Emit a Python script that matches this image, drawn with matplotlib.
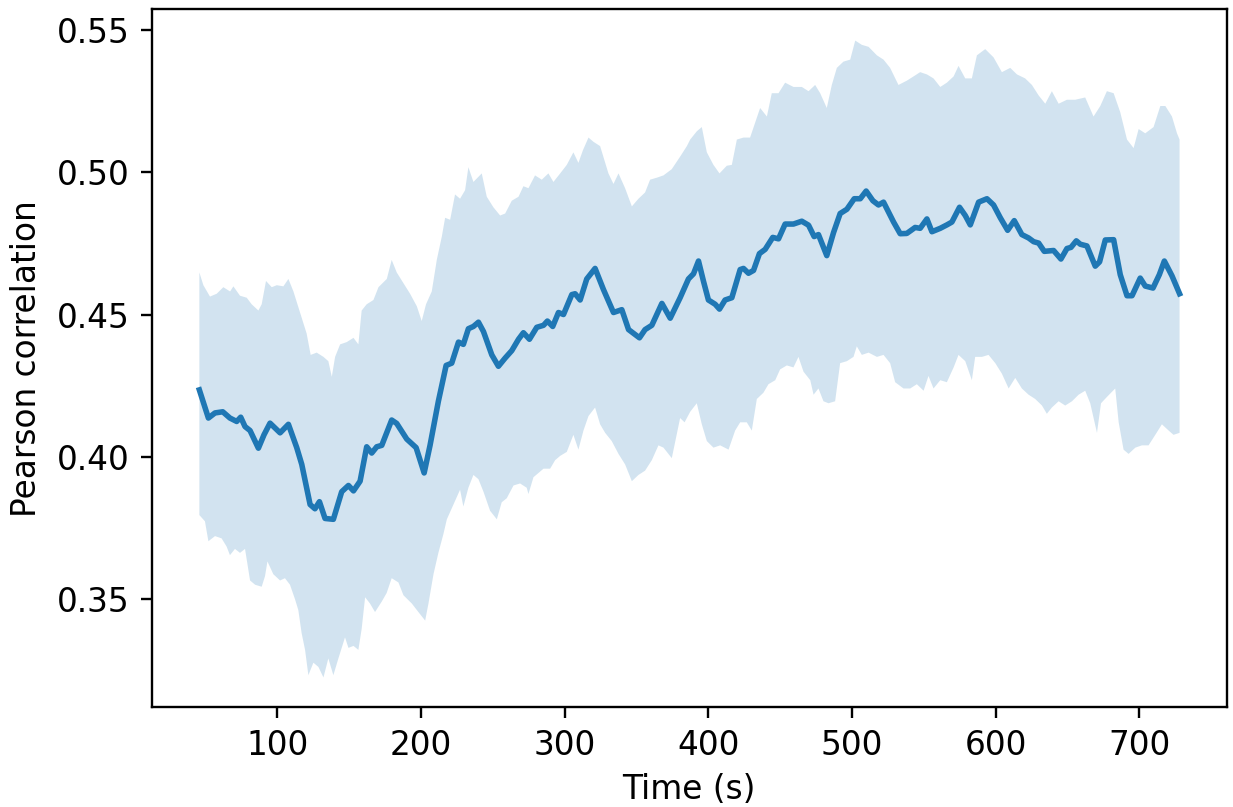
import numpy as np
import matplotlib
matplotlib.use("Agg")
import matplotlib.pyplot as plt

# mean correlation (smoothed)
t_mean = [45.7, 52, 56.6, 62, 67, 71.7, 74.5, 77.5, 81, 86.8, 90.7, 94.9, 101.9, 107.7,
          113.5, 117, 122.8, 126.2, 129.3, 133.2, 139, 144.8, 149.5, 153, 157.6, 162.2,
          165.7, 169.2, 172.7, 179.6, 183.1, 190.1, 196.6, 202.2, 206.3, 212.1, 217.5,
          221.4, 226.1, 229.5, 233, 236.5, 240, 243.5, 249.3, 253.9, 258.6, 263.2, 267.9,
          271.3, 275.5, 280.6, 285.3, 288, 291.7, 295.7, 299.2, 305, 307.3, 310.8, 315.4,
          321.2, 327, 334, 339.8, 344.5, 352.1, 356, 360.7, 367.7, 373.5, 380.4, 386.2,
          389.7, 393.2, 396.6, 400.1, 404.8, 407.8, 411.7, 416.4, 422.2, 424.5, 428,
          431.5, 435.6, 439.6, 444.9, 448.9, 453.5, 459.3, 465.1, 469.8, 473.7, 476.7,
          482.5, 487.2, 491.8, 496.5, 501.6, 505.8, 509.9, 514.6, 518.5, 522, 529, 533.6,
          538.2, 544, 547.5, 552.2, 555.7, 561.5, 566.1, 569.6, 574.9, 578.9, 582.4,
          588.2, 594, 598.6, 603.3, 608.4, 613, 618.3, 623, 626.5, 630, 633.9, 640.4,
          645.5, 649.7, 652.5, 656.2, 659, 663.6, 669.4, 672.4, 676.4, 682.2, 686.8,
          691.5, 695, 700.7, 704.2, 709.6, 714, 717.5, 722.8, 728.1]
r_mean = [0.4235, 0.4136, 0.4154, 0.4158, 0.4136, 0.4124, 0.4139, 0.4106, 0.4092, 0.403,
          0.4077, 0.4118, 0.4084, 0.4114, 0.4032, 0.3973, 0.3832, 0.3817, 0.3842, 0.3783,
          0.378, 0.3877, 0.3899, 0.388, 0.3914, 0.4035, 0.4013, 0.4035, 0.404, 0.4129,
          0.4117, 0.4062, 0.4032, 0.3943, 0.404, 0.4195, 0.4321, 0.4329, 0.4403, 0.4395,
          0.445, 0.4458, 0.4473, 0.444, 0.4358, 0.4318, 0.4347, 0.4373, 0.4413, 0.4436,
          0.4413, 0.4455, 0.4462, 0.4477, 0.4458, 0.4507, 0.45, 0.457, 0.4573, 0.4551,
          0.4625, 0.4662, 0.4588, 0.4507, 0.4517, 0.4447, 0.4418, 0.4447, 0.4462, 0.4539,
          0.4487, 0.4559, 0.4625, 0.4643, 0.4688, 0.4618, 0.4551, 0.4536, 0.4519, 0.4551,
          0.4559, 0.4658, 0.4662, 0.4645, 0.4655, 0.4714, 0.4729, 0.4771, 0.4766, 0.4818,
          0.4818, 0.4828, 0.4814, 0.4774, 0.4781, 0.4707, 0.4788, 0.4855, 0.487, 0.4907,
          0.4907, 0.4934, 0.49, 0.4885, 0.4895, 0.4825, 0.4784, 0.4785, 0.4806, 0.4803,
          0.4836, 0.4791, 0.4803, 0.4815, 0.4825, 0.4877, 0.4848, 0.4815, 0.4895, 0.4907,
          0.4885, 0.484, 0.4796, 0.483, 0.4781, 0.4769, 0.4756, 0.4751, 0.4722, 0.4725,
          0.4695, 0.4732, 0.4736, 0.4759, 0.4747, 0.4741, 0.467, 0.4685, 0.4762, 0.4763,
          0.464, 0.4566, 0.4566, 0.4628, 0.46, 0.4593, 0.464, 0.4688, 0.4636, 0.4573]

# upper edge of the spread
t_upper = [45.7, 48.5, 53.1, 57.8, 62.4, 67.1, 69.4, 74, 78.7, 82.1, 86.8, 89.1, 92.1,
           96.1, 99.6, 104.2, 107.7, 111.2, 115.8, 120.4, 123.2, 127.4, 132.1, 135.5,
           137.9, 140.2, 143.7, 148.3, 153, 156.4, 158.7, 162.2, 166.9, 170.4, 176.2,
           179.6, 183.1, 187.8, 192.4, 197.1, 200.5, 203.5, 207.5, 211, 214.5, 216.8,
           220.3, 223.7, 227.2, 230.7, 233, 236.5, 242.3, 245.8, 250.4, 255.1, 258.6,
           263.2, 267.9, 271.3, 274.8, 279.4, 284.1, 288.7, 292.2, 296.9, 301.5, 306.1,
           309.6, 312.7, 316.6, 320.1, 324.7, 330.5, 334, 337.5, 342.1, 346.8, 351.4, 356,
           359.5, 364.2, 368.8, 374.6, 380.4, 385.1, 387.4, 392, 395.5, 399, 403.6, 407.8,
           412.9, 416.4, 419.9, 424.5, 429.1, 436.1, 440.8, 444.2, 448.9, 453.5, 459.3,
           465.1, 469.8, 474.4, 477.9, 482.5, 486, 489.5, 494.1, 498.8, 502.3, 506.9,
           511.6, 517.4, 522, 526.6, 532.4, 538.2, 542.9, 547.5, 552.2, 556.8, 561.5,
           566.1, 570.8, 574.2, 578.9, 583.5, 587, 592.8, 598.6, 604.4, 610.2, 614.9,
           620.6, 625.3, 630, 634.6, 639.2, 643.9, 649.7, 655.5, 662.4, 668.2, 672.9,
           677.5, 682.2, 686.8, 691.5, 696.1, 699.6, 704.2, 710, 714.7, 718.2, 722.8,
           726.3, 728.1]
r_upper = [0.4648, 0.4603, 0.4563, 0.4573, 0.4596, 0.4581, 0.4599, 0.4566, 0.4559,
           0.4536, 0.4514, 0.4536, 0.4618, 0.4596, 0.4603, 0.4599, 0.4625, 0.4581, 0.4507,
           0.4433, 0.4358, 0.4366, 0.4351, 0.4336, 0.4281, 0.4351, 0.4395, 0.4403, 0.4418,
           0.4395, 0.4514, 0.4536, 0.4551, 0.4596, 0.4625, 0.4692, 0.4648, 0.461, 0.4573,
           0.4529, 0.4477, 0.4536, 0.4581, 0.4692, 0.4774, 0.484, 0.4833, 0.4922, 0.4907,
           0.4937, 0.5018, 0.4966, 0.4996, 0.4914, 0.4877, 0.4848, 0.4855, 0.49, 0.4914,
           0.4951, 0.4944, 0.4989, 0.4974, 0.4996, 0.4966, 0.4996, 0.5026, 0.507, 0.5033,
           0.5077, 0.5122, 0.5107, 0.5092, 0.4996, 0.4959, 0.4996, 0.4944, 0.488, 0.4907,
           0.4929, 0.4974, 0.4981, 0.4989, 0.5011, 0.5055, 0.5092, 0.5115, 0.5144, 0.5159,
           0.507, 0.5026, 0.4996, 0.5023, 0.5026, 0.5115, 0.5122, 0.5122, 0.5226, 0.5196,
           0.5278, 0.5278, 0.5315, 0.53, 0.53, 0.5285, 0.5307, 0.5278, 0.5226, 0.5307,
           0.5367, 0.5389, 0.5396, 0.5463, 0.5448, 0.5441, 0.5411, 0.5396, 0.5367, 0.5307,
           0.5322, 0.5337, 0.5352, 0.5344, 0.533, 0.53, 0.5315, 0.5337, 0.5374, 0.533,
           0.533, 0.5411, 0.5433, 0.5404, 0.5352, 0.5367, 0.5344, 0.533, 0.5307, 0.527,
           0.5241, 0.5285, 0.5241, 0.5255, 0.5255, 0.5263, 0.5196, 0.5233, 0.5285, 0.5278,
           0.5211, 0.5115, 0.5085, 0.5152, 0.5137, 0.5159, 0.5233, 0.5233, 0.5196, 0.5137,
           0.5115]

# lower edge of the spread
t_lower = [45.7, 49.6, 52, 56.6, 61.2, 64.7, 67, 70.5, 74, 77.5, 81, 84.5, 89.1, 91.4,
           93.1, 97.2, 101.9, 105.3, 108.8, 112.3, 114.6, 116.9, 119.3, 121.6, 125.1,
           128.6, 132.1, 135.5, 139, 142.5, 147.1, 149.5, 153, 156.4, 158.7, 161.1, 164.5,
           168, 172.7, 176.1, 179.6, 184.3, 187.8, 193.6, 198.2, 202.9, 205.2, 208.7,
           212.1, 215.6, 218, 222.6, 227.2, 229.5, 233, 236.5, 240, 243.5, 248.1, 252.8,
           256.2, 259.7, 264.4, 269, 273.6, 274.8, 278.3, 281.8, 285.3, 289.9, 293.4,
           296.9, 301.5, 306.1, 309.6, 313.1, 316.6, 321.2, 324.7, 328.2, 332.8, 337.5,
           342.1, 346.8, 351.4, 356, 360.7, 365.3, 368.8, 374.6, 380.4, 383.5, 387.4, 392,
           395.5, 399, 403.6, 408.3, 414.1, 418.7, 422.2, 426.8, 430.3, 433.8, 438.4,
           441.9, 446.6, 450, 454.7, 459.3, 462.8, 466.3, 471, 473.3, 476.7, 480.2, 483.7,
           488.3, 491.8, 496.5, 501.1, 503.4, 506.9, 511.6, 517.4, 522, 526.6, 530.1,
           535.9, 540.6, 545.2, 549.9, 553.3, 556.8, 561.5, 566.1, 570.8, 574.2, 578.9,
           583.5, 585.8, 590.5, 595.1, 599.8, 604.4, 609.1, 613.7, 618.3, 623, 627.6,
           632.3, 635.7, 639.2, 643.9, 648.5, 653.2, 657.8, 662.4, 665.9, 670.6, 673.4,
           677.5, 683.3, 685.7, 689.1, 692.6, 697.3, 701.9, 706.5, 711.2, 715.8, 720.5,
           723.9, 728.1]
r_lower = [0.3795, 0.3773, 0.3703, 0.3721, 0.3713, 0.3684, 0.3654, 0.3676, 0.3662,
           0.3676, 0.3565, 0.355, 0.3543, 0.358, 0.3632, 0.3587, 0.3565, 0.3573, 0.355,
           0.3499, 0.3461, 0.338, 0.3321, 0.3232, 0.3276, 0.3261, 0.3224, 0.3291, 0.3232,
           0.3291, 0.3365, 0.3328, 0.3335, 0.3321, 0.3395, 0.3506, 0.3484, 0.3454, 0.3491,
           0.3521, 0.3573, 0.3558, 0.3513, 0.3484, 0.3454, 0.3424, 0.3484, 0.3587, 0.3662,
           0.3728, 0.378, 0.3832, 0.3884, 0.3825, 0.3891, 0.3936, 0.3921, 0.3877, 0.381,
           0.378, 0.384, 0.3854, 0.3899, 0.3906, 0.3891, 0.3869, 0.3928, 0.3943, 0.3958,
           0.3958, 0.3988, 0.4003, 0.4017, 0.4077, 0.4025, 0.4092, 0.4143, 0.4173, 0.4114,
           0.4084, 0.4055, 0.401, 0.3973, 0.3914, 0.3936, 0.3951, 0.3988, 0.404, 0.4032,
           0.3995, 0.4136, 0.4121, 0.4158, 0.4188, 0.4114, 0.4055, 0.4032, 0.404, 0.4025,
           0.4092, 0.4121, 0.4121, 0.4092, 0.4203, 0.4225, 0.4255, 0.4269, 0.4307, 0.4321,
           0.4314, 0.4351, 0.4299, 0.4269, 0.4218, 0.424, 0.4195, 0.4188, 0.4195, 0.4329,
           0.4336, 0.4351, 0.4388, 0.4358, 0.4366, 0.4351, 0.4358, 0.4329, 0.4262, 0.424,
           0.424, 0.4255, 0.4232, 0.4284, 0.424, 0.4269, 0.4262, 0.4314, 0.4358, 0.4336,
           0.4269, 0.4351, 0.4351, 0.4358, 0.4329, 0.4292, 0.424, 0.4277, 0.424, 0.4218,
           0.4203, 0.418, 0.4151, 0.4173, 0.4195, 0.418, 0.4195, 0.4218, 0.4232, 0.4188,
           0.4084, 0.4188, 0.421, 0.424, 0.4121, 0.4025, 0.401, 0.4032, 0.404, 0.404,
           0.4077, 0.4114, 0.4092, 0.4077, 0.4084]

plt.rcParams['font.size'] = 11.8

fig = plt.figure(figsize=(1233 / 200, 807 / 200), dpi=200)
ax = fig.add_axes([0.123, 0.1235, 0.872, 0.865])

# spread as one polygon: upper edge then lower edge backwards
poly_x = np.concatenate([t_upper, t_lower[::-1]])
poly_y = np.concatenate([r_upper, r_lower[::-1]])
ax.fill(poly_x, poly_y, color='#1f77b4', alpha=0.2, linewidth=0)
ax.plot(t_mean, r_mean, color='#1f77b4', linewidth=2.0)

ax.set_xlim(12.5, 761)
ax.set_ylim(0.3119, 0.5573)
ax.set_xticks([100, 200, 300, 400, 500, 600, 700])
ax.set_yticks([0.35, 0.40, 0.45, 0.50, 0.55])
ax.set_xlabel("Time (s)", labelpad=4)
ax.set_ylabel("Pearson correlation", labelpad=5)
ax.tick_params(length=3.8, width=0.85, pad=4)
for s in ax.spines.values():
    s.set_linewidth(0.85)

fig.savefig("out.png", dpi=200)
